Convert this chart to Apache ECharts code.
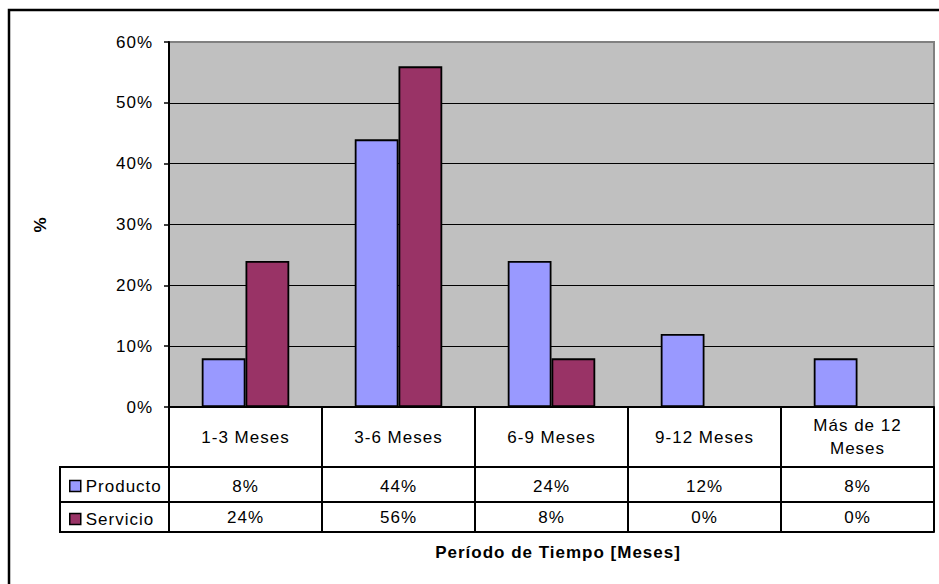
<!DOCTYPE html>
<html>
<head>
<meta charset="utf-8">
<script src="https://cdn.jsdelivr.net/npm/echarts@6/dist/echarts.min.js"></script>
<style>
  html, body { margin: 0; padding: 0; background: #fff; }
  #chart { width: 939px; height: 584px; letter-spacing: 1px; }
</style>
</head>
<body>
<div id="chart"></div>
<script>
// Periods (categories) and the share of each type, in percent
const categories = ['1-3 Meses', '3-6 Meses', '6-9 Meses', '9-12 Meses', 'Más de 12\nMeses'];
const producto = [8, 44, 24, 12, 8];
const servicio = [24, 56, 8, 0, 0];
const seriesNames = ['Producto', 'Servicio'];
const yMax = 60;
const yStep = 10;
const yTitle = '%';
const xTitle = 'Período de Tiempo [Meses]';

const FONT = '"Liberation Sans", Arial, sans-serif';
const colors = ['#9999FF', '#993366'];

// layout of the plot area and of the data table under it
const L = 169, R = 934, TOP = 42, ZERO = 407;
const ROW1 = 60, ROW2 = 95, ROW3 = 125;   // table line offsets below the zero line
const KEY_LEFT = 60;

const chart = echarts.init(document.getElementById('chart'), null, { renderer: 'svg' });

const txt = { color: '#000', fontFamily: FONT, fontSize: 17 };
const blackLine = { lineStyle: { color: '#000', width: 2 } };

function tableAxis(offset, values, margin) {
  return {
    type: 'category', data: categories, position: 'bottom', offset: offset,
    axisLine: blackLine, axisTick: { show: false },
    axisLabel: Object.assign({ interval: 0, margin: margin, verticalAlign: 'middle',
      formatter: (v, i) => values[i] + '%' }, txt)
  };
}

const option = {
  animation: false,
  backgroundColor: '#fff',
  grid: {
    left: L, right: 939 - R, top: TOP, bottom: 584 - ZERO,
    show: true, backgroundColor: '#C0C0C0', borderColor: '#808080', borderWidth: 2
  },
  legend: seriesNames.map((n, i) => ({
    data: [n], orient: 'vertical', left: KEY_LEFT + 9, top: ZERO + (i === 0 ? 70 : 103),
    padding: 0, itemWidth: 11, itemHeight: 11, itemGap: 6, icon: 'rect',
    itemStyle: { borderColor: '#000', borderWidth: 1.5 },
    textStyle: Object.assign({ lineHeight: 18 }, txt)
  })),
  xAxis: [
    {
      type: 'category', data: categories, position: 'bottom',
      axisLine: blackLine,
      axisTick: { show: true, interval: 0, length: ROW3, lineStyle: { color: '#000', width: 2 } },
      axisLabel: Object.assign({ interval: 0, margin: 30, verticalAlign: 'middle', lineHeight: 23 }, txt)
    },
    tableAxis(ROW1, producto, 19),
    tableAxis(ROW2, servicio, 15),
    {
      type: 'category', data: categories, position: 'bottom', offset: ROW3,
      axisLine: blackLine, axisTick: { show: false }, axisLabel: { show: false },
      name: xTitle, nameLocation: 'middle', nameGap: 12,
      nameTextStyle: Object.assign({}, txt, { fontWeight: 'bold', padding: [0, 0, 0, 13] })
    }
  ],
  yAxis: {
    type: 'value', min: 0, max: yMax, interval: yStep,
    axisLine: { show: true, lineStyle: { color: '#000', width: 2 } },
    axisTick: { show: true, length: 5, lineStyle: { color: '#000', width: 1.5 } },
    axisLabel: Object.assign({ margin: 16, formatter: '{value}%' }, txt),
    splitLine: { show: true, showMinLine: false, showMaxLine: false, lineStyle: { color: '#000', width: 1 } },
    name: yTitle, nameLocation: 'middle', nameGap: 120, nameRotate: 90,
    nameTextStyle: Object.assign({}, txt, { fontWeight: 'bold' })
  },
  series: [producto, servicio].map((d, i) => ({
    name: seriesNames[i], type: 'bar', data: d,
    barGap: '0%', barCategoryGap: '42.8%',
    itemStyle: { color: colors[i], borderColor: '#000', borderWidth: 1.8 }
  })),
  graphic: [
    // outer chart frame
    { type: 'rect', shape: { x: 9, y: 10, width: 1000, height: 1000 },
      style: { fill: null, stroke: '#000', lineWidth: 2.5 }, silent: true },
    // legend column of the data table
    { type: 'line', shape: { x1: KEY_LEFT, y1: ZERO + ROW1, x2: L, y2: ZERO + ROW1 }, style: { stroke: '#000', lineWidth: 2 } },
    { type: 'line', shape: { x1: KEY_LEFT, y1: ZERO + ROW2, x2: L, y2: ZERO + ROW2 }, style: { stroke: '#000', lineWidth: 2 } },
    { type: 'line', shape: { x1: KEY_LEFT, y1: ZERO + ROW3, x2: L, y2: ZERO + ROW3 }, style: { stroke: '#000', lineWidth: 2 } },
    { type: 'line', shape: { x1: KEY_LEFT, y1: ZERO + ROW1 - 1, x2: KEY_LEFT, y2: ZERO + ROW3 + 1 }, style: { stroke: '#000', lineWidth: 2 } }
  ]
};

chart.setOption(option);
</script>
</body>
</html>
